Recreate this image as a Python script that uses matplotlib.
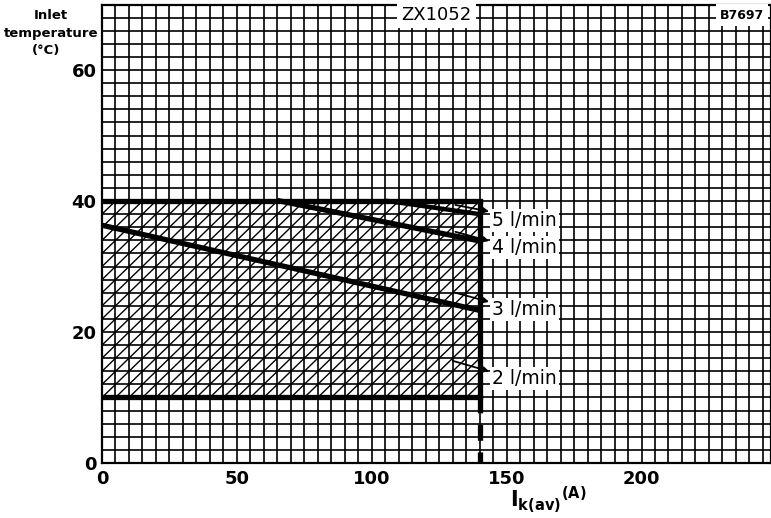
import matplotlib.pyplot as plt
import numpy as np

# operating area (hatched) and flow-rate limit curves
area_x = [0, 140]
area_y = [10, 40]

flow3_x = [0, 140]
flow3_y = [36.3, 23.3]
flow4_x = [66, 140]
flow4_y = [40.0, 33.9]
flow5_x = [106, 140]
flow5_y = [40.0, 38.0]

flow_labels = ["5 l/min", "4 l/min", "3 l/min", "2 l/min"]
label_y = [37.0, 32.9, 23.4, 12.9]
arrow_from = [(131, 39.4), (131, 35.3), (131, 26.0), (130, 15.6)]
arrow_to = [(143.5, 38.4), (143.5, 33.9), (143.5, 24.6), (143.5, 14.0)]

x_ticks = [0, 50, 100, 150, 200]
y_ticks = [0, 20, 40, 60]


def main():
    fig = plt.figure(figsize=(7.71, 5.18), dpi=100)
    ax = fig.add_axes([0.1323, 0.1062, 0.8677, 0.885])
    ax.set_xlim(0, 248)
    ax.set_ylim(0, 70)

    # graph paper grid
    ax.set_xticks(x_ticks)
    ax.set_yticks(y_ticks)
    ax.set_xticks(np.arange(0, 249, 5), minor=True)
    ax.set_yticks(np.arange(0, 71, 2), minor=True)
    ax.grid(which="both", color="black", lw=1.2)
    ax.set_axisbelow(True)
    ax.tick_params(which="both", length=0)
    ax.tick_params(axis="x", pad=5)
    ax.tick_params(axis="y", pad=4)
    for lab in ax.get_xticklabels() + ax.get_yticklabels():
        lab.set_fontsize(13)
        lab.set_fontweight("bold")
    for sp in ax.spines.values():
        sp.set_linewidth(1.6)

    # hatching: diagonal of every grid cell inside the area
    rect = plt.Rectangle((area_x[0], area_y[0]), area_x[1] - area_x[0],
                         area_y[1] - area_y[0], fill=False, lw=0)
    ax.add_patch(rect)
    for x0 in np.arange(-100, 145, 5):
        ln, = ax.plot([x0, x0 + 100], [area_y[0], area_y[0] + 40],
                      color="black", lw=1.0, zorder=2)
        ln.set_clip_path(rect)

    lw = 3.8
    ax.plot(area_x, [area_y[0]] * 2, color="black", lw=lw, zorder=4)
    ax.plot(area_x, [area_y[1]] * 2, color="black", lw=lw, zorder=4)
    ax.plot([area_x[1]] * 2, area_y, color="black", lw=lw, zorder=4,
            solid_capstyle="butt")
    ax.plot([area_x[1]] * 2, [area_y[0], 0], color="black", lw=lw, zorder=4,
            linestyle=(0, (3, 2.2)))
    ax.plot(flow3_x, flow3_y, color="black", lw=lw, zorder=4)
    ax.plot(flow4_x, flow4_y, color="black", lw=lw, zorder=4)
    ax.plot(flow5_x, flow5_y, color="black", lw=lw - 0.6, zorder=4)

    for txt, ly, a0, a1 in zip(flow_labels, label_y, arrow_from, arrow_to):
        ax.text(144.5, ly, txt, fontsize=13.5, va="center", ha="left", zorder=6,
                bbox=dict(facecolor="white", edgecolor="none", pad=1.5))
        ax.annotate("", xy=a1, xytext=a0, zorder=6,
                    arrowprops=dict(arrowstyle="-|>", color="black", lw=1.3,
                                    mutation_scale=8, shrinkA=0, shrinkB=0))

    ax.text(124, 68.4, "ZX1052", fontsize=13, ha="center", va="center", zorder=6,
            bbox=dict(facecolor="white", edgecolor="none", pad=3))
    ax.text(245.5, 68.4, "B7697", fontsize=9, fontweight="bold", ha="right",
            va="center", zorder=6,
            bbox=dict(facecolor="white", edgecolor="none", pad=3))

    fig.text(0.066, 0.97, "Inlet", fontsize=9.5, fontweight="bold", ha="center", va="center")
    fig.text(0.066, 0.936, "temperature", fontsize=9.5, fontweight="bold", ha="center", va="center")
    fig.text(0.06, 0.903, "(°C)", fontsize=9.5, fontweight="bold", ha="center", va="center")
    fig.text(0.711, 0.022, r"$\mathbf{I}_{\mathbf{k(av)}}{}^{\mathbf{(A)}}$",
             fontsize=15, ha="center", va="baseline")

    plt.savefig("out.png", dpi=100)


if __name__ == "__main__":
    main()
